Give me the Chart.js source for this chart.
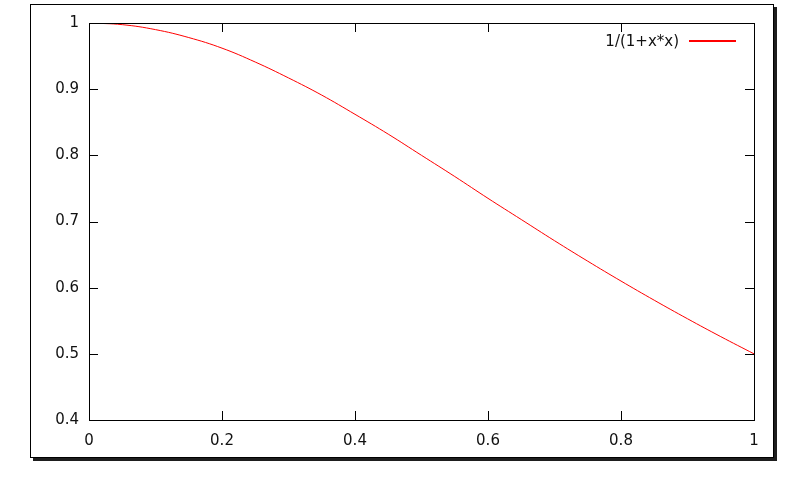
<!DOCTYPE html>
<html>
<head>
<meta charset="utf-8">
<script src="https://cdn.jsdelivr.net/npm/chart.js@4/dist/chart.umd.min.js"></script>
<style>
html,body{margin:0;padding:0;background:#fff;}
#wrap{width:811px;height:482px;position:relative;}
</style>
</head>
<body>
<div id="wrap"><canvas id="c" width="811" height="482"></canvas></div>
<script>
// Values
const seriesLabel = "1/(1+x*x)";
const xValues = [0, 0.05, 0.1, 0.15, 0.2, 0.25, 0.3, 0.35, 0.4, 0.45, 0.5, 0.55, 0.6, 0.65, 0.7, 0.75, 0.8, 0.85, 0.9, 0.95, 1];
const yValues = [1, 0.9975, 0.990, 0.978, 0.962, 0.941, 0.917, 0.891, 0.862, 0.832, 0.800, 0.768, 0.735, 0.703, 0.671, 0.640, 0.610, 0.581, 0.553, 0.526, 0.500];
const xTicks = [0, 0.2, 0.4, 0.6, 0.8, 1];
const yTicks = [0.4, 0.5, 0.6, 0.7, 0.8, 0.9, 1];

const FONT = "DejaVu Sans";
const FSIZE = 15;
const points = xValues.map((x, i) => ({x: x, y: yValues[i]}));
const fmt = v => String(Number(v.toFixed(1)));

const framePlugin = {
  id: 'frame',
  beforeDraw(chart) {
    const ctx = chart.ctx;
    ctx.save();
    ctx.fillStyle = '#fff';
    ctx.fillRect(0, 0, chart.width, chart.height);
    // drop shadow
    ctx.fillStyle = '#1e1e1e';
    ctx.fillRect(773, 7, 4, 454);
    ctx.fillRect(33, 457, 744, 4);
    // outer frame
    ctx.strokeStyle = '#000';
    ctx.lineWidth = 1;
    ctx.strokeRect(30.5, 4.5, 743, 453);
    ctx.restore();
  },
  afterDatasetsDraw(chart) {
    const ctx = chart.ctx;
    const a = chart.chartArea;
    const xs = chart.scales.x, ys = chart.scales.y;
    ctx.save();
    ctx.strokeStyle = '#000';
    ctx.lineWidth = 1;
    ctx.strokeRect(Math.round(a.left) + 0.5, Math.round(a.top) + 0.5, Math.round(a.right - a.left), Math.round(a.bottom - a.top));
    const tl = 9;
    ctx.beginPath();
    yTicks.forEach(v => {
      const y = Math.round(ys.getPixelForValue(v)) + 0.5;
      ctx.moveTo(a.left, y); ctx.lineTo(a.left + tl, y);
      ctx.moveTo(a.right, y); ctx.lineTo(a.right - tl, y);
    });
    xTicks.forEach(v => {
      const x = Math.round(xs.getPixelForValue(v)) + 0.5;
      ctx.moveTo(x, a.bottom); ctx.lineTo(x, a.bottom - tl);
      ctx.moveTo(x, a.top); ctx.lineTo(x, a.top + tl);
    });
    ctx.stroke();
    // legend (gnuplot style: text then sample line)
    ctx.font = FSIZE + 'px "' + FONT + '"';
    ctx.fillStyle = '#111';
    ctx.textAlign = 'right';
    ctx.textBaseline = 'middle';
    ctx.fillText(seriesLabel, 679, 42);
    ctx.strokeStyle = '#ff0000';
    ctx.lineWidth = 2;
    ctx.beginPath();
    ctx.moveTo(689, 41); ctx.lineTo(736, 41);
    ctx.stroke();
    ctx.restore();
  }
};

new Chart(document.getElementById('c'), {
  type: 'line',
  data: {
    datasets: [{
      label: seriesLabel,
      data: points,
      borderColor: '#ff0000',
      borderWidth: 1,
      pointRadius: 0,
      tension: 0.4,
      fill: false
    }]
  },
  options: {
    responsive: false,
    animation: false,
    layout: {padding: {top: 23, right: 57, left: 0, bottom: 0}},
    plugins: {legend: {display: false}, tooltip: {enabled: false}},
    scales: {
      x: {
        type: 'linear', min: 0, max: 1,
        grid: {display: false, drawTicks: false},
        border: {display: false},
        ticks: {stepSize: 0.2, padding: 12, color: '#111', font: {family: FONT, size: FSIZE}, maxRotation: 0, callback: fmt},
        afterFit(s) { s.height = 62; }
      },
      y: {
        min: 0.4, max: 1,
        grid: {display: false, drawTicks: false},
        border: {display: false},
        ticks: {stepSize: 0.1, padding: 10, color: '#111', font: {family: FONT, size: FSIZE}, callback: fmt},
        afterFit(s) { s.width = 89; }
      }
    }
  },
  plugins: [framePlugin]
});
</script>
</body>
</html>
